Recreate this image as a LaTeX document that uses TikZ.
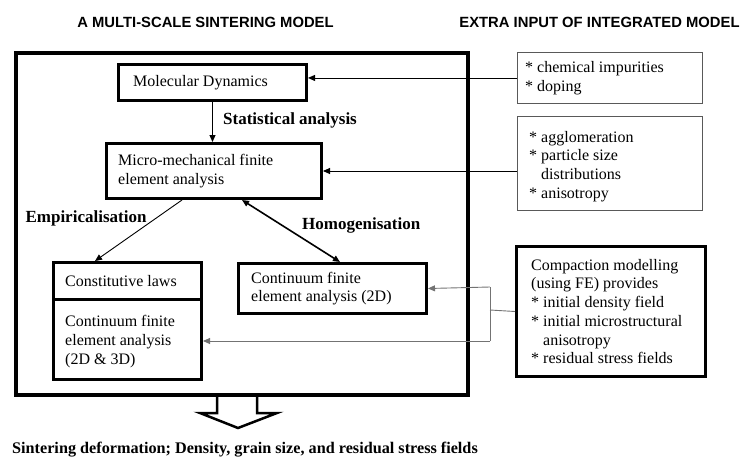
\documentclass[tikz,border=0pt]{standalone}
\usepackage{fontspec}
\setmainfont{Liberation Serif}
\newfontfamily\titlefont{Liberation Sans}
\usetikzlibrary{arrows.meta}
\newcommand\bxfont{\fontsize{16}{18.7}\selectfont}
\newcommand\lbfont{\bfseries\fontsize{17}{19}\selectfont}
\begin{document}
\begin{tikzpicture}[x=1pt,y=-1pt,
  thickbox/.style={draw, line width=3pt, anchor=north west, inner sep=0pt},
  thinbox/.style={draw=black!65, line width=0.9pt, anchor=north west, inner sep=0pt},
  txt/.style={anchor=west, align=left, inner sep=0pt, font=\bxfont},
  lbl/.style={inner sep=0pt, font=\lbfont},
  ttl/.style={inner sep=0pt, font=\titlefont\bfseries\fontsize{14.8}{16}\selectfont},
  conn/.style={-{Triangle[length=7pt,width=6pt]}, line width=0.9pt},
  gconn/.style={draw=black!55, line width=0.9pt},
  garrow/.style={gconn, -{Triangle[length=7pt,width=6pt]}}
]
\useasboundingbox (0,0) rectangle (742,458);

% titles
\node[ttl] (t1) at (205.5,22) {A MULTI-SCALE SINTERING MODEL};
\node[ttl] (t2) at (599.5,22) {EXTRA INPUT OF INTEGRATED MODEL};

% output arrow (drawn before the frame)
\draw[line width=2.5pt, fill=white, line join=miter] (217,393) -- (217,413) -- (200,413) -- (238,428) -- (277,413) -- (257,413) -- (257,393);

% frame
\node[draw, line width=4pt, anchor=north west, inner sep=0pt, minimum width=452, minimum height=342] (frame) at (14,51) {};

% boxes
\node[thickbox, minimum width=188, minimum height=36] (md) at (117,63) {};
\node[txt] (mdt) at ([xshift=16pt]md.west) {Molecular Dynamics};

\node[thickbox, minimum width=215, minimum height=55] (micro) at (105,142) {};
\node[txt] (microt) at ([xshift=13pt]micro.west) {Micro-mechanical finite\\element analysis};

\node[thickbox, minimum width=148, minimum height=37] (ctop) at (52,261) {};
\node[txt] (ctopt) at ([xshift=13pt]ctop.west) {Constitutive laws};
\node[thickbox, minimum width=148, minimum height=80] (cbot) at (52,298) {};
\node[txt] (cbott) at ([xshift=13pt,yshift=-2pt]cbot.west) {Continuum finite\\element analysis\\(2D \& 3D)};

\node[thickbox, minimum width=188, minimum height=50] (c2d) at (237,262) {};
\node[txt] (c2dt) at ([xshift=14pt]c2d.west) {Continuum finite\\element analysis (2D)};

\node[thinbox, minimum width=185, minimum height=51] (chem) at (517,52) {};
\node[txt] (chemt) at ([xshift=8pt]chem.west) {* chemical impurities\\* doping};

\node[thinbox, minimum width=185, minimum height=94] (agg) at (517,116) {};
\node[txt] (aggt) at ([xshift=12pt,yshift=-3pt]agg.west) {* agglomeration\\* particle size\\\phantom{* }distributions\\* anisotropy};

\node[thickbox, minimum width=189, minimum height=130] (comp) at (515,245) {};
\node[txt] (compt) at ([xshift=16pt]comp.west) {Compaction modelling\\(using FE) provides\\* initial density field\\* initial microstructural\\\phantom{* }anisotropy\\* residual stress fields};

% labels
\node[lbl, anchor=west] (stat) at (223,120) {Statistical analysis};
\node[lbl] (emp) at (86,218) {Empiricalisation};
\node[lbl, anchor=west] (hom) at (302,225) {Homogenisation};
\node[inner sep=0pt, anchor=west, font=\bfseries\fontsize{16.2}{18}\selectfont] (out) at (12,450) {Sintering deformation; Density, grain size, and residual stress fields};

% connectors
\draw[conn] (md.south) -- (md.south |- micro.north);
\draw[conn] (chem.west) -- (chem.west -| md.east);
\draw[conn] (micro.east -| agg.west) -- (micro.east);
\draw[conn] ([xshift=77pt]micro.south west) -- ([xshift=43pt]ctop.north west);
\draw[{Triangle[length=7pt,width=6pt]}-{Triangle[length=7pt,width=6pt]}, line width=1.6pt] ([xshift=137pt]micro.south west) -- ([xshift=103pt]c2d.north west);

\coordinate (jt) at (490,287);
\coordinate (jm) at (490,310);
\coordinate (jb) at (490,341);
\draw[gconn] (jt) -- (jb);
\draw[gconn] (comp.west) -- (jm);
\draw[garrow] (jt) -- (c2d.east);
\draw[garrow] (jb) -- (jb -| cbot.east);
\end{tikzpicture}
\end{document}
